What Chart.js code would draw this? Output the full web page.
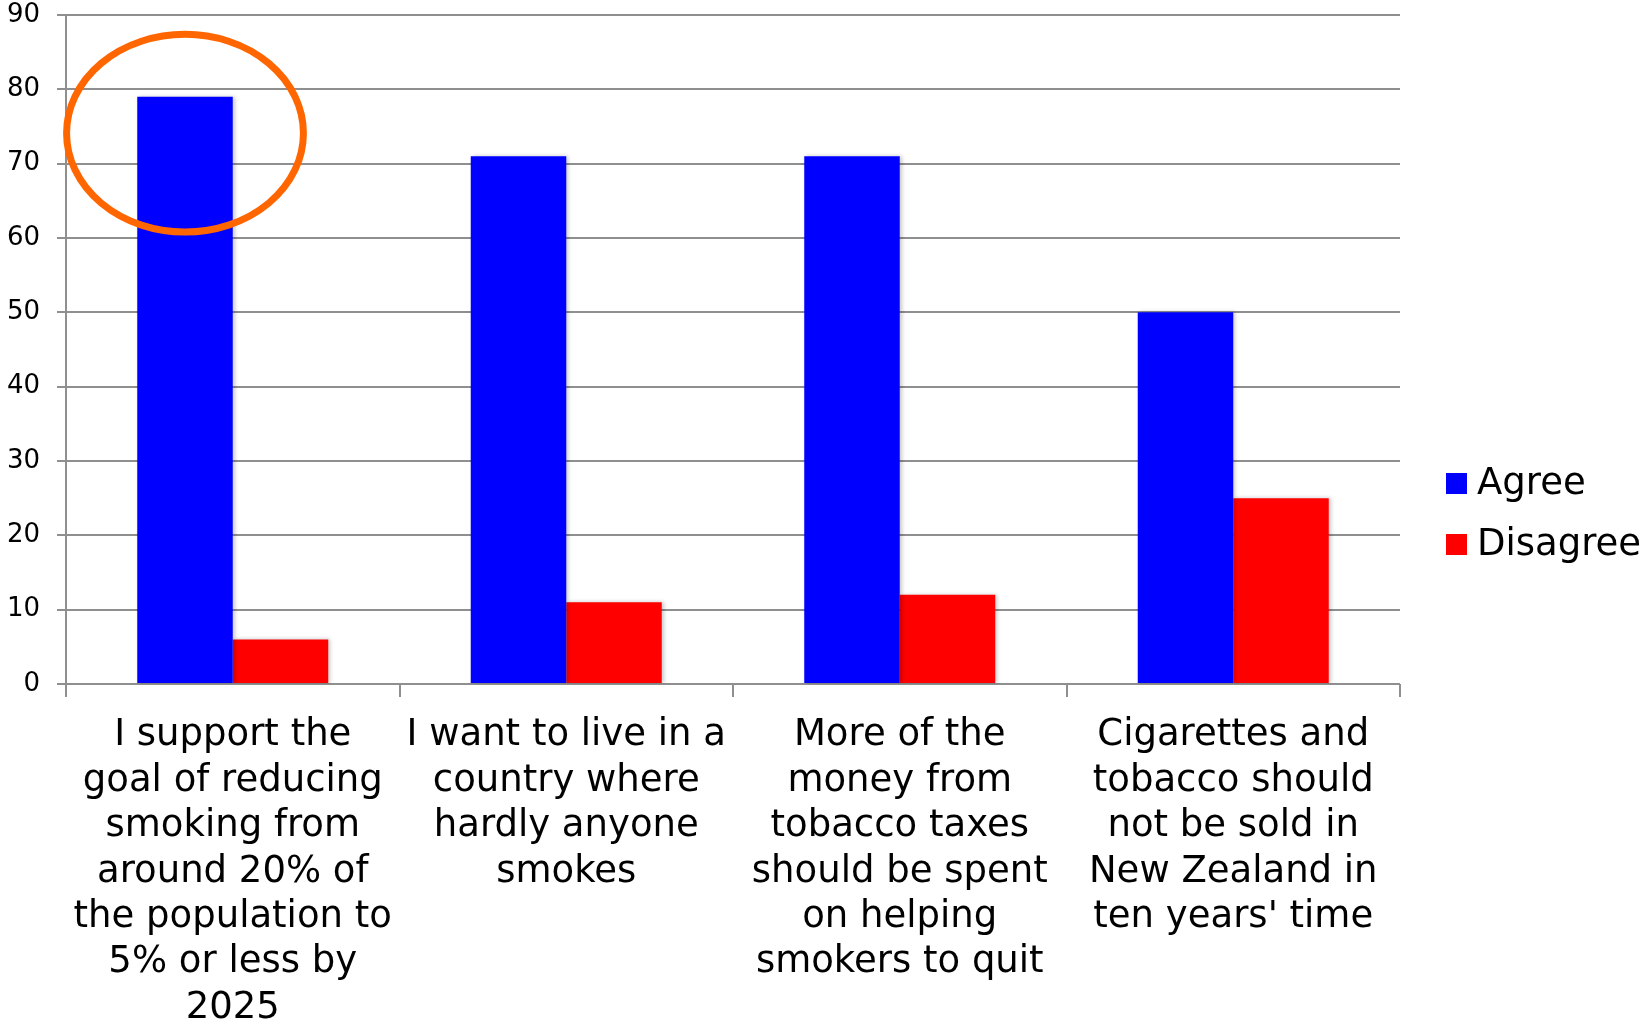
<!DOCTYPE html>
<html>
<head>
<meta charset="utf-8">
<script src="https://cdn.jsdelivr.net/npm/chart.js@4.4.0/dist/chart.umd.min.js"></script>
<style>
  html, body { margin: 0; padding: 0; background: #fff; }
  #wrap { width: 1642px; height: 1024px; position: relative; }
</style>
</head>
<body>
<div id="wrap"><canvas id="surveyChart"></canvas></div>
<script>
  const categories = [
    ["I support the", "goal of reducing", "smoking from", "around 20% of", "the population to", "5% or less by", "2025"],
    ["I want to live in a", "country where", "hardly anyone", "smokes"],
    ["More of the", "money from", "tobacco taxes", "should be spent", "on helping", "smokers to quit"],
    ["Cigarettes and", "tobacco should", "not be sold in", "New Zealand in", "ten years' time"]
  ];
  const seriesNames = ["Agree", "Disagree"];
  const agreeValues = [79, 71, 71, 50];
  const disagreeValues = [6, 11, 12, 25];
  const barColors = ["#0000ff", "#ff0000"];
  const yTicks = [0, 10, 20, 30, 40, 50, 60, 70, 80, 90];

  const FONT = "'DejaVu Sans', Verdana, sans-serif";
  const GRID = "#8f8f8f";

  // soft shadow behind the bars
  const barShadow = {
    id: 'barShadow',
    beforeDatasetsDraw(chart) {
      const ctx = chart.ctx;
      ctx.save();
      ctx.shadowColor = 'rgba(0,0,0,0.22)';
      ctx.shadowBlur = 4;
      ctx.shadowOffsetX = 2;
      ctx.shadowOffsetY = 0;
    },
    afterDatasetsDraw(chart) {
      chart.ctx.restore();
    }
  };

  // legend on the right, plus the orange ring around the first Agree bar
  const extras = {
    id: 'extras',
    afterDraw(chart) {
      const ctx = chart.ctx;
      const area = chart.chartArea;
      const y = chart.scales.y;

      // ring
      const bar = chart.getDatasetMeta(0).data[0];
      const cx = bar.x;
      const cy = y.getPixelForValue(74.1);
      const rx = bar.width * 1.24;
      const ry = y.getPixelForValue(0) - y.getPixelForValue(13.3);
      ctx.save();
      ctx.strokeStyle = '#ff6600';
      ctx.lineWidth = 7;
      ctx.beginPath();
      ctx.ellipse(cx, cy, rx, ry, 0, 0, Math.PI * 2);
      ctx.stroke();
      ctx.restore();

      // legend
      const lx = area.right + 46;
      const midY = chart.height / 2 + 2;
      const rowGap = 61;
      ctx.save();
      ctx.font = "37px " + FONT;
      ctx.textBaseline = 'middle';
      ctx.textAlign = 'left';
      chart.data.datasets.forEach((ds, i) => {
        const ry0 = midY + (i - (chart.data.datasets.length - 1) / 2) * rowGap;
        ctx.fillStyle = ds.backgroundColor;
        ctx.fillRect(lx, ry0 - 10.5, 21, 21);
        ctx.fillStyle = '#000';
        ctx.fillText(ds.label, lx + 31, ry0 + 1);
      });
      ctx.restore();
    }
  };

  new Chart(document.getElementById('surveyChart'), {
    type: 'bar',
    data: {
      labels: categories,
      datasets: [
        { label: seriesNames[0], data: agreeValues, backgroundColor: barColors[0] },
        { label: seriesNames[1], data: disagreeValues, backgroundColor: barColors[1] }
      ]
    },
    options: {
      responsive: true,
      maintainAspectRatio: false,
      animation: false,
      categoryPercentage: 0.5727,
      barPercentage: 1,
      layout: { padding: { left: 7, right: 242, top: 0, bottom: 0 } },
      plugins: {
        legend: { display: false },
        tooltip: { enabled: false }
      },
      scales: {
        x: {
          grid: {
            offset: true,
            drawOnChartArea: false,
            drawTicks: true,
            tickLength: 13,
            color: GRID,
            lineWidth: 2
          },
          border: { display: false },
          ticks: {
            color: '#000',
            font: { family: FONT, size: 37, lineHeight: 1.227 },
            padding: 16,
            autoSkip: false,
            maxRotation: 0,
            minRotation: 0
          },
          afterFit(scale) {
            scale.height = 340;
          }
        },
        y: {
          min: 0,
          max: 90,
          afterBuildTicks(scale) {
            scale.ticks = yTicks.map(v => ({ value: v }));
          },
          afterFit(scale) {
            // keep the axis snug against its labels
            scale.width = 59;
            scale.paddingTop = 15;
            scale.paddingBottom = 15;
          },
          grid: {
            color: GRID,
            lineWidth: 2,
            drawTicks: true,
            tickLength: 9
          },
          border: { display: true, color: GRID, width: 2 },
          ticks: {
            color: '#000',
            font: { family: FONT, size: 26 },
            padding: 17
          }
        }
      }
    },
    plugins: [barShadow, extras]
  });
</script>
</body>
</html>
